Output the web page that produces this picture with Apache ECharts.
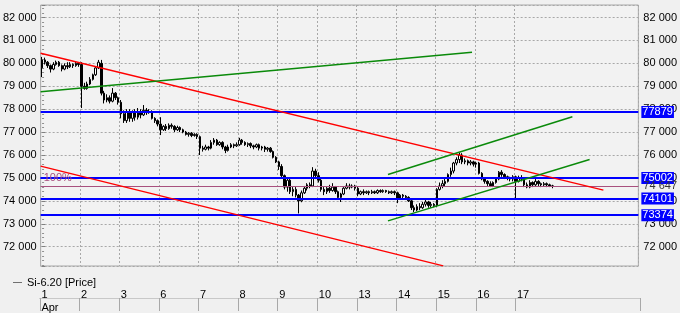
<!DOCTYPE html>
<html>
<head>
<meta charset="utf-8">
<script src="https://cdn.jsdelivr.net/npm/echarts@6/dist/echarts.min.js"></script>
<style>
html,body{margin:0;padding:0;background:#f0f0f0;}
#chart{width:680px;height:313px;}
#log{position:absolute;left:0;top:0;font:10px monospace;color:#c00;white-space:pre;}
</style>
</head>
<body>
<div id="chart"></div>
<div id="log"></div>
<script>
// ---- data ----
const seriesName = 'Si-6.20 [Price]';
const month = 'Apr';
const days = ['1','2','3','6','7','8','9','10','13','14','15','16','17'];
const hours = ['10:00','11:00','12:00','13:00','14:00','15:00','16:00','17:00','18:00','19:00','20:00','21:00','22:00','23:00'];
const futureSlots = 30;

const opens = [
79800,80150,80050,79900,79750,79950,80050,79900,79750,79900,79850,79950,79900,80000,
79950,79000,78900,79100,79300,79500,79800,80000,78700,78400,78500,78350,78700,78500,
78300,77800,77500,77900,77600,77850,77650,77900,77750,77950,77850,77900,77600,77500,
77350,77100,77250,77150,77300,77250,77100,77200,77100,77000,76900,76950,76850,76900,
76800,76300,76250,76350,76300,76550,76650,76450,76550,76350,76200,76350,76450,76400,
76450,76650,76550,76450,76500,76400,76350,76450,76300,76350,76250,76300,76150,75900,
75700,75500,75100,74600,74900,74400,74500,74250,74000,74350,74550,74700,74650,75300,
75100,74900,74500,74400,74550,74450,74600,74400,74150,74300,74550,74650,74600,74650,
74550,74300,74400,74350,74400,74350,74400,74350,74450,74400,74450,74400,74350,74400,
74350,74100,74250,74200,74150,74000,73700,73600,73750,73700,73850,73950,73800,73850,
73800,74500,74650,74750,74850,75150,75300,75650,75800,76000,75700,75750,75650,75700,
75600,75650,75200,74950,74850,74750,74650,74800,74950,75250,75150,75050,75000,74950,
75050,74850,75000,74950,74700,74600,74800,74700,74850,74750,74700,74750,74700,74650
];
const closes = [
80150,80050,79900,79750,79950,80050,79900,79750,79900,79850,79950,79900,80000,79950,
79000,78900,79100,79300,79500,79800,80050,78700,78400,78500,78350,78700,78500,78300,
77800,77500,77900,77600,77850,77650,77900,77750,77950,77850,77900,77600,77500,77350,
77100,77250,77150,77300,77250,77100,77200,77100,77000,76900,76950,76850,76900,76800,
76300,76250,76350,76300,76550,76650,76450,76550,76350,76200,76350,76450,76400,76450,
76650,76550,76450,76500,76400,76350,76450,76300,76350,76250,76300,76150,75900,75700,
75500,75100,74600,74900,74400,74500,74250,74000,74350,74550,74700,74650,75300,75100,
74900,74500,74400,74550,74450,74600,74400,74150,74300,74550,74650,74600,74650,74550,
74300,74400,74350,74400,74350,74400,74350,74450,74400,74450,74400,74350,74400,74350,
74100,74250,74200,74150,74000,73700,73600,73750,73700,73850,73950,73800,73850,73800,
74500,74650,74750,74850,75150,75300,75650,75800,76000,75700,75750,75650,75700,75600,
75650,75200,74950,74850,74750,74650,74800,74950,75250,75150,75050,75000,74950,75050,
74850,75000,74950,74700,74600,74800,74700,74850,74750,74700,74750,74700,74650,74647
];
const lows = [
79400,79950,79800,79600,79700,79900,79850,79650,79700,79750,79800,79800,79850,79850,
78050,78850,78850,79050,79250,79450,79750,78600,78250,78300,78250,78300,78400,78200,
77600,77400,77400,77450,77450,77500,77550,77600,77700,77750,77800,77550,77400,77250,
76870,77050,77050,77100,77150,77000,77050,77000,76950,76850,76800,76780,76800,76700,
76000,76150,76200,76200,76250,76450,76400,76400,76250,76080,76150,76300,76300,76350,
76400,76450,76400,76350,76300,76250,76300,76200,76200,76130,76150,76100,75850,75650,
75350,75000,74500,74400,74300,74200,74150,73450,73940,74300,74450,74550,74600,74950,
74800,74400,74250,74300,74350,74400,74300,74050,73950,74250,74500,74500,74550,74450,
74200,74250,74250,74300,74250,74300,74300,74300,74350,74350,74350,74300,74300,74250,
73900,74050,74100,74050,73950,73600,73510,73550,73600,73650,73750,73700,73700,73720,
73720,74450,74550,74650,74800,75050,75200,75550,75650,75600,75600,75550,75550,75500,
75450,75150,74900,74750,74650,74600,74600,74750,74900,75050,74950,74900,74850,74850,
74120,74800,74850,74600,74550,74550,74600,74650,74650,74600,74650,74600,74600,74550
];
const highs = [
80280,80250,80100,79950,80050,80120,80100,79950,80000,80050,80050,80000,80100,80050,
80050,79150,79200,79400,79550,79850,80150,80150,78800,78650,78600,78920,78750,78550,
78400,77950,78000,78000,77950,78000,78050,78000,78180,78050,78000,77950,77650,77550,
77650,77300,77350,77380,77380,77300,77280,77250,77150,77050,77000,77000,76950,76950,
76850,76400,76450,76400,76650,76740,76700,76600,76600,76400,76450,76520,76500,76550,
76750,76700,76600,76550,76550,76450,76500,76500,76400,76400,76350,76350,76200,75950,
75750,75600,75150,75000,74950,74600,74600,74300,74450,74650,74770,74800,75470,75400,
75250,74950,74600,74600,74700,74770,74650,74450,74350,74600,74770,74750,74720,74700,
74600,74450,74500,74450,74450,74480,74450,74500,74500,74500,74480,74450,74450,74450,
74400,74300,74300,74250,74200,74050,73800,73850,73900,73950,74050,74000,73950,73900,
74550,74800,74900,74950,75200,75450,75700,75900,76100,76080,75850,75800,75780,75750,
75700,75700,75250,75000,74900,74850,74850,75000,75300,75340,75200,75100,75050,75120,
75100,75100,75120,75000,74800,74900,74850,74950,74900,74800,74820,74800,74750,74700
];

// trend lines: [bar index, price] endpoints
const redUpper = [[-0.5, 80437], [199.1, 74467]];
const redLower = [[-0.5, 75515], [142.3, 71162]];
const greenLong = [[-0.5, 78760], [152.5, 80480]];
const greenChanUpper = [[122.7, 75153], [188.1, 77668]];
const greenChanLower = [[122.7, 73127], [194.2, 75808]];

// horizontal levels
const levels = [77879, 75002, 74101, 73374];
const fibLevel = 75002;
const fibLabel = '100%';
const lastPrice = 74647;

const yMin = 71157, yMax = 82546;

// ---- build ----
const perDay = hours.length;
const categories = [];
days.forEach(d => hours.forEach(h => categories.push(d + ' ' + h)));
for (let i = 0; i < futureSlots; i++) categories.push('+' + (i + 1));
const nData = days.length * perDay;
const candles = opens.map((o, i) => [o, closes[i], lows[i], highs[i]]);

const FONT = 'Liberation Sans, Arial, sans-serif';
const fmtSpace = v => String(Math.round(v)).replace(/\B(?=(\d{3})+(?!\d))/g, ' ');
const dayStart = i => i % perDay === 0;
const BLUE = '#0000ff', MAROON = '#a8507e', GRID = '#a8a8a8';

const lvlLines = levels.map(v => ({
  yAxis: v,
  lineStyle: {color: BLUE, width: 2, type: 'solid'},
  label: {show: true, position: 'end', distance: 3, formatter: String(v),
          backgroundColor: BLUE, color: '#fff', fontSize: 11, fontFamily: FONT,
          padding: [1, 1, 0, 1]}
}));
lvlLines.push({
  yAxis: lastPrice,
  lineStyle: {color: MAROON, width: 1, type: 'solid'},
  label: {show: true, position: 'end', distance: 5, formatter: fmtSpace(lastPrice),
          color: '#333', fontSize: 11, fontFamily: FONT}
});
lvlLines.push({
  yAxis: fibLevel,
  lineStyle: {color: BLUE, width: 2, type: 'solid'},
  label: {show: true, position: 'insideStartTop', distance: [3, -6], formatter: fibLabel,
          color: MAROON, fontSize: 11, fontFamily: FONT}
});

function trend(name, pts, color) {
  return {name: name, type: 'line', xAxisIndex: 1, yAxisIndex: 0, data: pts,
    showSymbol: false, symbol: 'none', silent: true, z: 5,
    lineStyle: {color: color, width: 1.5}};
}

const option = {
  animation: false,
  backgroundColor: '#f0f0f0',
  textStyle: {fontFamily: FONT},
  legend: {
    left: 8, top: 272, itemWidth: 9, itemHeight: 1, icon: 'rect',
    itemStyle: {color: '#707070', borderWidth: 0, borderColor: '#707070'},
    data: [{name: seriesName, itemStyle: {color: '#707070', borderWidth: 0, borderColor: '#707070'}}],
    textStyle: {fontSize: 11, color: '#000', fontFamily: FONT},
    selectedMode: false
  },
  grid: [
    {left: 40, right: 40, top: 5, bottom: 47, show: true, borderColor: GRID, borderWidth: 1,
     backgroundColor: '#f2f2f2'},
    {left: 40, right: 40, top: 286, height: 13, show: false}
  ],
  xAxis: [
    {type: 'category', gridIndex: 0, data: categories, boundaryGap: true,
     axisLine: {show: false}, axisTick: {show: false}, axisLabel: {show: false},
     splitLine: {show: true, interval: (i) => dayStart(i) && i > 0 && i < nData,
                 lineStyle: {color: GRID, type: [2, 2], width: 1}}},
    {type: 'value', gridIndex: 0, min: -0.5, max: categories.length - 0.5, show: false},
    {type: 'category', gridIndex: 1, data: categories, boundaryGap: true, position: 'top',
     axisLine: {show: true, lineStyle: {color: GRID}},
     axisTick: {show: true, inside: true, length: 13, interval: (i) => dayStart(i) && i < nData,
                lineStyle: {color: GRID}},
     axisLabel: {show: true, inside: true, margin: 2, align: 'left', fontSize: 11, color: '#000',
                 lineHeight: 13, fontFamily: FONT,
                 interval: (i) => dayStart(i) && i < nData,
                 formatter: (v, i) => i === 0 ? v.split(' ')[0] + '\n' + month : v.split(' ')[0]},
     splitLine: {show: false}},
    {type: 'category', gridIndex: 1, data: categories, boundaryGap: true, position: 'bottom',
     axisLine: {show: true, lineStyle: {color: '#c8c8c8'}}, axisTick: {show: false},
     axisLabel: {show: false}, splitLine: {show: false}}
  ],
  yAxis: [
    {type: 'value', gridIndex: 0, position: 'left', min: yMin, max: yMax, splitNumber: 10,
     axisLine: {show: false},
     axisTick: {show: true, inside: true, length: 3, lineStyle: {color: '#808080'}},
     minorTick: {show: true, splitNumber: 5, length: 2, lineStyle: {color: '#909090'}},
     axisLabel: {fontSize: 11, color: '#000', margin: 4, formatter: fmtSpace,
                 showMinLabel: false, showMaxLabel: false, fontFamily: FONT},
     splitLine: {show: true, lineStyle: {color: GRID, type: [2, 2], width: 1}}},
    {type: 'value', gridIndex: 0, position: 'right', min: yMin, max: yMax, splitNumber: 10,
     axisLine: {show: false}, axisTick: {show: false},
     axisLabel: {fontSize: 11, color: '#000', margin: 5, formatter: fmtSpace,
                 showMinLabel: false, showMaxLabel: false, fontFamily: FONT},
     splitLine: {show: false}},
    {type: 'value', gridIndex: 1, show: false, min: 0, max: 1}
  ],
  series: [
    {name: seriesName, type: 'candlestick', xAxisIndex: 0, yAxisIndex: 0, data: candles,
     barWidth: 2, z: 3,
     itemStyle: {color: '#ffffff', color0: '#000000', borderColor: '#000000', borderColor0: '#000000',
                 borderWidth: 1},
     markLine: {silent: true, symbol: ['none', 'none'], precision: 0, animation: false,
                data: lvlLines}},
    trend('redUpper', redUpper, '#ff0000'),
    trend('redLower', redLower, '#ff0000'),
    trend('greenLong', greenLong, '#0a8a0a'),
    trend('greenChanUpper', greenChanUpper, '#0a8a0a'),
    trend('greenChanLower', greenChanLower, '#0a8a0a')
  ]
};
const chart = echarts.init(document.getElementById('chart'), null, {renderer: 'canvas'});
try { chart.setOption(option); }
catch (e) { document.getElementById('log').textContent = 'ERR ' + e.message + '\n' + (e.stack || '').split('\n').slice(1, 4).join('\n'); }
</script>
</body>
</html>
